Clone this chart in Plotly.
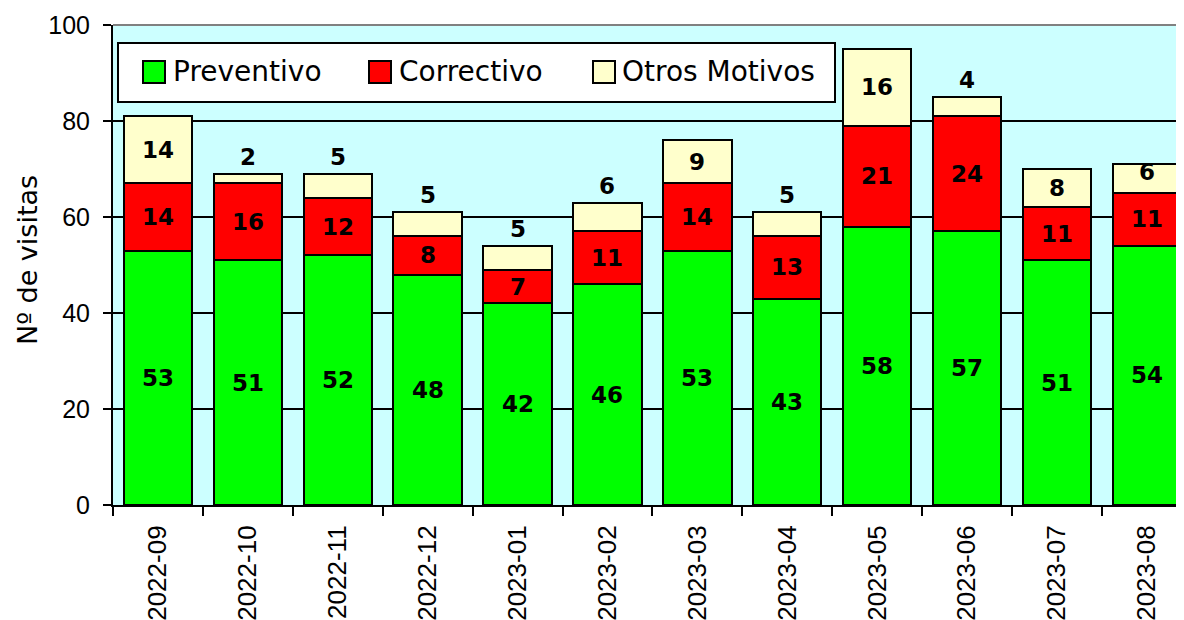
import plotly.graph_objects as go

months = ["2022-09", "2022-10", "2022-11", "2022-12", "2023-01", "2023-02",
          "2023-03", "2023-04", "2023-05", "2023-06", "2023-07", "2023-08"]
preventivo = [53, 51, 52, 48, 42, 46, 53, 43, 58, 57, 51, 54]
correctivo = [14, 16, 12, 8, 7, 11, 14, 13, 21, 24, 11, 11]
otros = [14, 2, 5, 5, 5, 6, 9, 5, 16, 4, 8, 6]

series_names = ["Preventivo", "Correctivo", "Otros Motivos"]
colors = ["#00FF00", "#FF0000", "#FFFFCC"]
BG = "#CCFFFF"
LABEL_FONT = dict(family="DejaVu Sans", size=23, color="black")

# The page body has an 8px default margin; screen coords = figure coords + 8
OFF = 8
W, H = 1184 - OFF, 620 - OFF
ML, MR, MT = 113 - OFF, 0, 25 - OFF
MB = H - MT - 480

fig = go.Figure()
for name, vals, col in zip(series_names, [preventivo, correctivo, otros], colors):
    fig.add_trace(go.Bar(
        x=months, y=vals, name=name,
        marker=dict(color=col, line=dict(color="black", width=2)),
        width=0.76, showlegend=False, hoverinfo="x+y+name",
    ))

annotations = []
for i, m in enumerate(months):
    base = 0
    for k, vals in enumerate([preventivo, correctivo, otros]):
        v = vals[i]
        if k == 2 and v <= 6 and i != 11:
            annotations.append(dict(x=m, y=base + v, text=f"<b>{v}</b>", showarrow=False,
                                    yanchor="bottom", yshift=2, font=LABEL_FONT))
        elif k == 2 and v <= 6:
            annotations.append(dict(x=m, y=base + v, text=f"<b>{v}</b>", showarrow=False,
                                    yanchor="middle", yshift=-8, font=LABEL_FONT))
        else:
            annotations.append(dict(x=m, y=base + v / 2, text=f"<b>{v}</b>", showarrow=False,
                                    yanchor="middle", font=LABEL_FONT))
        base += v

pw = W - ML - MR
ph = H - MT - MB

def px_x(p):  # screen px -> paper
    return (p - OFF - ML) / pw

def px_y(p):
    return 1 - (p - OFF - MT) / ph

annotations.append(dict(xref="paper", yref="paper", x=px_x(28), y=px_y(260),
                        text="Nº de visitas", textangle=-90, showarrow=False,
                        xanchor="center", yanchor="middle",
                        font=dict(family="DejaVu Sans", size=27, color="black")))

shapes = []
shapes.append(dict(type="line", xref="paper", yref="paper", x0=0, x1=1, y0=1, y1=1,
                   line=dict(color="#808080", width=2), layer="above"))
shapes.append(dict(type="rect", xref="paper", yref="paper",
                   x0=px_x(118), x1=px_x(835), y0=px_y(102), y1=px_y(43),
                   fillcolor="white", line=dict(color="black", width=2), layer="above"))
legend_items = [(143, 171), (369, 397), (593, 620)]
for (sx, tx), name, col in zip(legend_items, series_names, colors):
    shapes.append(dict(type="rect", xref="paper", yref="paper",
                       x0=px_x(sx), x1=px_x(sx + 22), y0=px_y(83), y1=px_y(61),
                       fillcolor=col, line=dict(color="black", width=2), layer="above"))
    annotations.append(dict(xref="paper", yref="paper", x=px_x(tx), y=px_y(72),
                            text=name, showarrow=False, xanchor="left", yanchor="middle",
                            font=dict(family="DejaVu Sans", size=28, color="black")))

fig.update_layout(
    width=W, height=H,
    margin=dict(l=ML, r=MR, t=MT, b=MB, pad=0),
    barmode="stack", bargap=0.24,
    plot_bgcolor=BG, paper_bgcolor="white",
    annotations=annotations, shapes=shapes,
    showlegend=False,
    font=dict(family="Liberation Sans", color="black"),
)
fig.update_xaxes(
    range=[-0.5, -0.5 + pw / 89.9], type="category", automargin=False,
    showline=True, linecolor="black", linewidth=2,
    ticks="outside", ticklen=9, tickwidth=2, tickcolor="black",
    tickson="boundaries", tickangle=-90,
    tickfont=dict(family="Liberation Sans", size=26, color="black"),
    ticklabelstandoff=8, showgrid=False,
)
fig.update_yaxes(
    range=[0, 100], tickvals=[0, 20, 40, 60, 80, 100], automargin=False,
    showline=True, linecolor="black", linewidth=2,
    ticks="outside", ticklen=8, tickwidth=2, tickcolor="black",
    tickfont=dict(family="Liberation Sans", size=25, color="black"),
    ticklabelstandoff=8,
    showgrid=True, gridcolor="black", gridwidth=2, zeroline=False,
)

fig.write_html("out.html")
